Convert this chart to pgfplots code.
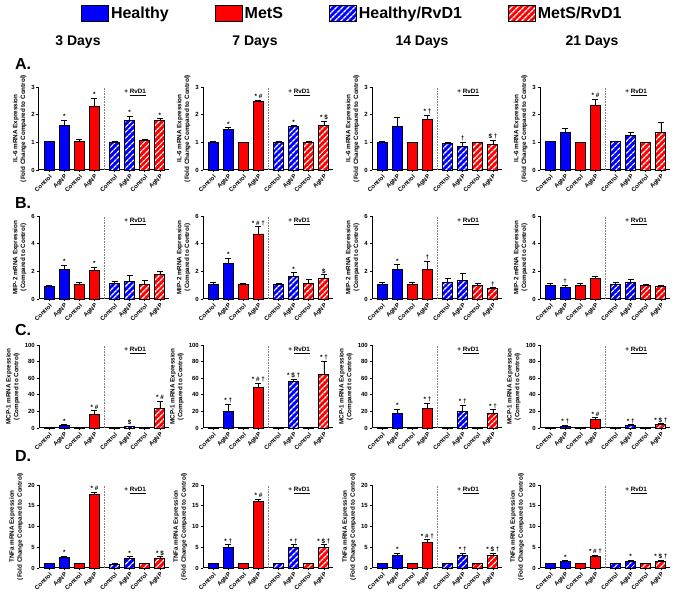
\documentclass[border=0pt]{standalone}
\usepackage{pgfplots}
\pgfplotsset{compat=1.18}
\usepackage{pgfplotstable}
\usepackage{fontspec}
\setmainfont{Liberation Sans}
\usetikzlibrary{patterns.meta}

\definecolor{hblue}{RGB}{0,0,255}
\definecolor{mred}{RGB}{255,0,0}
\newcommand\tickfont{\fontsize{6}{7}\selectfont\bfseries}
\newcommand\labfont{\fontsize{6.3}{7.8}\selectfont\bfseries}

% IL-6
\pgfplotstableread{
x y e lab
1 1.02 0.03 {}
2 1.60 0.21 {*}
3 1.03 0.08 {}
4 2.30 0.30 {*}
5.33 1.00 0.05 {}
6.33 1.79 0.16 {*}
7.33 1.05 0.07 {}
8.33 1.78 0.07 {*}
}\tAa
\pgfplotstableread{
x y e lab
1 1.00 0.02 {}
2 1.45 0.08 {*}
3 0.98 0.03 {}
4 2.48 0.05 {* \#}
5.33 1.00 0.02 {}
6.33 1.57 0.04 {*}
7.33 1.00 0.04 {}
8.33 1.62 0.13 {* \$}
}\tAb
\pgfplotstableread{
x y e lab
1 1.00 0.03 {}
2 1.57 0.32 {}
3 0.99 0.02 {}
4 1.82 0.17 {* †}
5.33 0.97 0.02 {}
6.33 0.84 0.15 {†}
7.33 0.98 0.02 {}
8.33 0.92 0.15 {\$ †}
}\tAc
\pgfplotstableread{
x y e lab
1 1.02 0.02 {}
2 1.37 0.15 {}
3 0.99 0.02 {}
4 2.35 0.22 {* \#}
5.33 1.02 0.02 {}
6.33 1.24 0.11 {}
7.33 0.99 0.02 {}
8.33 1.34 0.38 {}
}\tAd
% MIP-2
\pgfplotstableread{
x y e lab
1 0.92 0.08 {}
2 2.15 0.30 {*}
3 1.02 0.17 {}
4 2.05 0.25 {*}
5.33 1.12 0.18 {}
6.33 1.30 0.43 {}
7.33 1.08 0.28 {}
8.33 1.75 0.27 {}
}\tBa
\pgfplotstableread{
x y e lab
1 1.02 0.15 {}
2 2.57 0.38 {*}
3 1.02 0.14 {}
4 4.70 0.53 {* \# †}
5.33 1.02 0.14 {}
6.33 1.62 0.27 {*}
7.33 1.10 0.33 {}
8.33 1.50 0.25 {\$}
}\tBb
\pgfplotstableread{
x y e lab
1 1.07 0.12 {}
2 2.15 0.35 {*}
3 1.02 0.20 {}
4 2.15 0.60 {†}
5.33 1.20 0.28 {}
6.33 1.35 0.47 {}
7.33 0.98 0.12 {}
8.33 0.73 0.08 {†}
}\tBc
\pgfplotstableread{
x y e lab
1 0.95 0.20 {}
2 0.80 0.22 {†}
3 0.97 0.18 {}
4 1.47 0.20 {}
5.33 1.02 0.20 {}
6.33 1.22 0.22 {}
7.33 0.98 0.08 {}
8.33 0.88 0.10 {}
}\tBd
% MCP-1
\pgfplotstableread{
x y e lab
1 1.0 0.2 {}
2 3.0 1.0 {*}
3 1.0 0.2 {}
4 16.5 4.5 {* \#}
5.33 1.0 0.2 {}
6.33 1.5 0.8 {\$}
7.33 1.0 0.2 {}
8.33 23.5 9.0 {* \#}
}\tCa
\pgfplotstableread{
x y e lab
1 1.0 0.2 {}
2 20.0 9.0 {* †}
3 1.0 0.2 {}
4 48.5 5.0 {* \# †}
5.33 1.0 0.2 {}
6.33 56.0 3.0 {* \$ †}
7.33 1.0 0.2 {}
8.33 65.0 15.0 {* †}
}\tCb
\pgfplotstableread{
x y e lab
1 1.0 0.2 {}
2 17.0 6.0 {*}
3 1.0 0.2 {}
4 24.0 6.0 {* †}
5.33 1.0 0.2 {}
6.33 20.0 7.0 {* †}
7.33 1.0 0.2 {}
8.33 18.0 4.0 {* †}
}\tCc
\pgfplotstableread{
x y e lab
1 1.0 0.2 {}
2 2.0 1.0 {* †}
3 1.0 0.2 {}
4 10.0 3.0 {* \#}
5.33 1.0 0.2 {}
6.33 3.0 1.0 {* †}
7.33 1.0 0.2 {}
8.33 4.0 1.0 {* \$ †}
}\tCd
% TNFa
\pgfplotstableread{
x y e lab
1 1.0 0.1 {}
2 2.5 0.4 {*}
3 1.0 0.1 {}
4 17.8 0.5 {* \#}
5.33 0.9 0.1 {}
6.33 2.2 0.5 {*}
7.33 1.0 0.1 {}
8.33 2.4 0.3 {* \$}
}\tDa
\pgfplotstableread{
x y e lab
1 1.0 0.1 {}
2 4.9 0.7 {* †}
3 1.0 0.1 {}
4 16.0 0.6 {* \#}
5.33 1.0 0.1 {}
6.33 5.0 0.6 {* †}
7.33 1.0 0.1 {}
8.33 5.0 0.6 {* \$ †}
}\tDb
\pgfplotstableread{
x y e lab
1 1.0 0.1 {}
2 3.0 0.6 {*}
3 1.0 0.1 {}
4 6.1 0.7 {* \# †}
5.33 1.0 0.1 {}
6.33 3.0 0.5 {* †}
7.33 1.0 0.1 {}
8.33 3.0 0.5 {* \$ †}
}\tDc
\pgfplotstableread{
x y e lab
1 1.0 0.1 {}
2 1.5 0.3 {*}
3 1.0 0.1 {}
4 2.8 0.3 {* \# †}
5.33 1.0 0.1 {}
6.33 1.6 0.3 {*}
7.33 1.0 0.1 {}
8.33 1.6 0.3 {* \$ †}
}\tDd

\pgfplotsset{
  hatch/.style={postaction={pattern={Lines[angle=45,distance=4pt,line width=1.4pt]},pattern color=white}},
  bars/.style={ybar, bar width=0.66, bar shift=0pt, draw=black, line width=0.9pt,
    error bars/y dir=plus, error bars/y explicit,
    error bars/error bar style={black, line width=0.7pt},
    error bars/error mark options={black, rotate=90, mark size=3pt, line width=0.7pt}},
  leg/.style={legend entries={Healthy,MetS,Healthy/RvD1,MetS/RvD1},
    legend style={at={(2.41,1.88)}, anchor=center, draw=none, fill=none,
      legend columns=4, font=\fontsize{16}{18}\selectfont\bfseries,
      /tikz/every even column/.append style={column sep=44pt}},
    legend image code/.code={\draw[##1] (0pt,-8pt) rectangle (27pt,8pt);}},
}

\newcommand\panel[7]{%
\begin{axis}[at={(#1pt,#2pt)}, anchor=south west, scale only axis,
  width=130pt, height=83pt,
  xmin=0.33, xmax=8.93, ymin=0, ymax=#4, ytick={#5},
  axis lines*=left, axis line style={line width=1pt, black},
  tick align=outside, major tick length=2.5pt, tick style={line width=0.8pt, black},
  xtick={1,2,3,4,5.33,6.33,7.33,8.33},
  xticklabels={Control,AgNP,Control,AgNP,Control,AgNP,Control,AgNP},
  xticklabel style={rotate=45, anchor=north east, font=\tickfont, inner sep=1pt},
  yticklabel style={font=\tickfont, inner sep=1.5pt},
  /pgf/number format/assume math mode=true,
  ylabel={#6}, ylabel style={align=center, font=\labfont},
  clip=false, #7]
\addplot[bars, fill=hblue, restrict x to domain=0.5:2.5] table[x=x,y=y,y error=e]{#3};
\addplot[bars, fill=mred, restrict x to domain=2.5:4.5] table[x=x,y=y,y error=e]{#3};
\addplot[bars, fill=hblue, hatch, restrict x to domain=4.5:6.8] table[x=x,y=y,y error=e]{#3};
\addplot[bars, fill=mred, hatch, restrict x to domain=6.8:9] table[x=x,y=y,y error=e]{#3};
\addplot[forget plot, only marks, mark=none, nodes near coords, point meta=explicit symbolic,
  nodes near coords style={font=\labfont, anchor=south, inner sep=0.5pt, yshift=0.5pt}]
  table[x=x, y expr=\thisrow{y}+\thisrow{e}, meta=lab]{#3};
\draw[gray, densely dotted, line width=0.6pt] (axis cs:4.665,0) -- (axis cs:4.665,#4);
\node[font=\labfont] at (rel axis cs:0.74,0.93) {+ \underline{RvD1}};
\end{axis}}

\begin{document}
\begin{tikzpicture}
\useasboundingbox (0pt,0pt) rectangle (685pt,594pt);
\def\ila{IL-6 mRNA Expression\\(Fold Change Compared to Control)}
\def\mip{MIP-2 mRNA Expression\\(Compared to Control)}
\def\mcp{MCP-1 mRNA Expression\\(Compared to Control)}
\def\tnf{TNFa mRNA Expression\\(Fold Change Compared to Control)}
\panel{39}{424}{\tAa}{3}{0,1,2,3}{\ila}{leg}
\panel{203}{424}{\tAb}{3}{0,1,2,3}{\ila}{}
\panel{372}{424}{\tAc}{3}{0,1,2,3}{\ila}{}
\panel{540}{424}{\tAd}{3}{0,1,2,3}{\ila}{}
\panel{39}{295}{\tBa}{6}{0,2,4,6}{\mip}{}
\panel{203}{295}{\tBb}{6}{0,2,4,6}{\mip}{}
\panel{372}{295}{\tBc}{6}{0,2,4,6}{\mip}{}
\panel{540}{295}{\tBd}{6}{0,2,4,6}{\mip}{}
\panel{39}{166}{\tCa}{100}{0,20,40,60,80,100}{\mcp}{}
\panel{203}{166}{\tCb}{100}{0,20,40,60,80,100}{\mcp}{}
\panel{372}{166}{\tCc}{100}{0,20,40,60,80,100}{\mcp}{}
\panel{540}{166}{\tCd}{100}{0,20,40,60,80,100}{\mcp}{}
\panel{39}{26}{\tDa}{20}{0,5,10,15,20}{\tnf}{}
\panel{203}{26}{\tDb}{20}{0,5,10,15,20}{\tnf}{}
\panel{372}{26}{\tDc}{20}{0,5,10,15,20}{\tnf}{}
\panel{540}{26}{\tDd}{20}{0,5,10,15,20}{\tnf}{}
\begin{scope}[font=\fontsize{14}{16}\selectfont\bfseries]
\node at (78pt,552pt) {3 Days};
\node at (255pt,552pt) {7 Days};
\node at (422pt,552pt) {14 Days};
\node at (592pt,552pt) {21 Days};
\end{scope}
\begin{scope}[font=\fontsize{16}{18}\selectfont\bfseries]
\node at (23pt,530pt) {A.};
\node at (23pt,391pt) {B.};
\node at (23pt,264pt) {C.};
\node at (23pt,138pt) {D.};
\end{scope}
\end{tikzpicture}
\end{document}
